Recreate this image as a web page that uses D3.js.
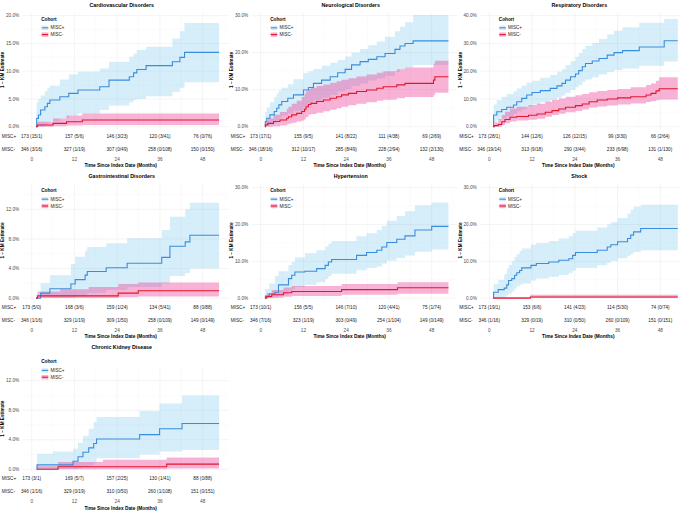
<!DOCTYPE html>
<html>
<head>
<meta charset="utf-8">
<script src="https://cdn.jsdelivr.net/npm/d3@7"></script>
<style>
body { margin: 0; background: #fff; }
svg { display: block; font-family: "Liberation Sans", Arial, sans-serif; }
</style>
</head>
<body>
<svg id="chart" width="680" height="513"></svg>
<script>
// rows are [month, estimate %, lower CI %, upper CI %]
const cvPlus = [
  [1.2,0,0,0],[1.4,1.5,0,4.4],[1.9,2.1,0,5.0],[2.5,3.0,0,5.6],[3.7,3.6,0.3,6.4],
  [4.4,4.2,0.6,7.0],[5.1,4.8,1.0,7.4],[7.9,5.4,1.5,8.5],[10.4,6.0,2.0,9.4],
  [13.0,6.6,2.4,9.9],[19.1,7.2,3.0,10.5],[21.7,8.4,3.8,11.7],[27.4,9.0,4.4,12.6],
  [28.6,9.7,4.8,13.2],[29.5,10.3,5.0,13.8],[32.1,11.0,5.5,14.4],[39.5,11.7,6.3,15.9],
  [41.6,12.5,7.0,17.2],[42.9,13.4,8.0,18.7],[52.6,13.4,8.0,18.7]
]
const cvMinus = [
  [1.2,0,0,0],[1.6,0.3,0,0.9],[6.0,0.6,0.1,1.5],[9.8,0.9,0.2,2.0],[14.2,1.2,0.3,2.4],
  [52.6,1.2,0.3,2.4]
]
const neuroPlus = [
  [1.2,0,0,0],[1.3,1.4,0,4.0],[1.7,2.3,0.2,5.2],[2.6,3.2,0.6,6.6],[3.8,4.1,1.1,8.0],
  [4.5,5.0,1.7,9.0],[5.1,5.9,2.3,9.8],[5.9,6.8,3.0,10.5],[7.6,7.7,3.6,11.5],
  [9.2,8.6,4.3,12.8],[12.0,9.9,5.6,14.5],[13.4,10.6,6.2,15.0],[14.8,11.7,7.0,15.6],
  [17.1,12.6,7.8,16.5],[19.5,13.5,8.6,17.3],[21.6,14.6,9.5,18.0],[23.7,15.5,10.2,19.0],
  [25.5,16.7,11.0,20.0],[27.9,17.6,11.7,21.0],[30.2,18.2,12.5,22.0],[32.6,18.9,13.0,23.0],
  [34.9,19.8,13.8,24.3],[37.7,20.9,14.8,25.8],[39.1,21.8,15.5,27.0],[40.5,22.5,16.0,28.2],
  [42.8,23.2,16.7,30.2],[52.7,23.2,16.7,30.2]
]
const neuroMinus = [
  [1.2,0,0,0],[1.3,0.5,0,1.5],[2.0,0.9,0,2.3],[3.6,1.4,0.1,3.2],[5.4,1.8,0.3,4.0],
  [7.3,2.3,0.6,4.8],[7.8,2.7,0.8,5.4],[8.7,3.2,1.1,6.2],[10.1,3.6,1.4,7.0],
  [11.5,4.1,1.7,8.0],[12.3,4.7,2.0,9.0],[12.7,5.4,2.6,9.6],[13.4,6.0,3.2,10.2],
  [14.1,6.3,3.4,10.5],[15.7,6.8,3.8,11.0],[17.6,7.2,4.2,11.4],[19.5,7.7,4.6,11.9],
  [21.3,8.1,5.0,12.3],[22.7,8.6,5.4,12.7],[24.6,9.0,5.8,13.1],[26.9,9.5,6.2,13.6],
  [29.7,9.9,6.6,14.1],[32.6,10.4,7.0,14.6],[34.4,10.8,7.3,15.0],[38.2,11.3,7.7,15.5],
  [40.5,11.7,8.0,16.0],[48.5,12.6,8.5,17.0],[48.9,13.5,9.2,17.8],[52.7,13.5,9.2,17.8]
]
const respPlus = [
  [1.1,0,0,0],[1.2,4.2,1.5,8.0],[2.1,5.4,2.5,9.6],[3.5,6.2,3.0,10.8],[4.9,7.0,3.8,11.8],
  [6.8,7.8,4.6,12.8],[7.7,9.0,5.5,13.8],[9.1,10.2,6.3,14.8],[10.5,11.4,7.3,15.8],
  [12.0,12.3,8.0,16.6],[14.3,13.0,8.8,17.6],[17.1,13.8,9.6,18.6],[19.0,14.7,10.4,19.8],
  [20.4,15.6,11.2,20.8],[21.4,16.8,12.2,22.2],[22.8,18.0,13.2,23.6],[24.2,19.0,14.2,25.2],
  [25.1,20.2,15.0,26.6],[26.1,21.6,16.2,28.0],[27.0,22.8,17.0,29.2],[28.9,23.7,17.8,30.2],
  [30.8,24.6,18.8,31.6],[33.1,25.8,19.8,33.2],[35.0,26.7,20.4,34.6],[37.4,27.4,21.0,35.8],
  [42.1,28.7,22.0,37.5],[49.1,31.0,23.5,38.8],[52.9,31.0,23.5,38.8]
]
const respMinus = [
  [1.1,0,0,0],[1.4,0.4,0,1.5],[2.5,0.8,0,2.8],[3.5,1.8,0.6,4.2],[4.4,2.6,1.2,5.4],
  [5.8,3.4,1.9,6.6],[7.7,3.7,2.2,7.2],[11.0,4.1,2.5,7.8],[13.4,4.6,2.9,8.3],
  [15.7,5.2,3.6,9.0],[17.6,5.8,4.2,9.6],[19.5,6.4,4.7,10.2],[21.4,7.0,5.2,10.8],
  [24.2,7.6,5.7,11.3],[26.1,8.2,6.2,11.8],[28.0,9.0,6.9,12.4],[30.3,9.6,7.3,12.9],
  [33.1,10.0,7.6,13.2],[36.0,10.4,8.0,13.6],[39.7,10.8,8.4,14.2],[44.0,11.4,8.9,15.0],
  [45.4,12.0,9.2,15.6],[46.8,12.9,9.5,16.6],[47.7,13.7,9.8,17.8],[52.9,13.7,9.8,17.8]
]
const giPlus = [
  [1.2,0,0,0],[2.5,0.67,0,2.0],[5.1,1.26,0,3.1],[11.0,1.9,0,4.6],[12.2,2.5,0.2,5.6],
  [15.0,3.1,0.5,6.4],[15.6,3.6,0.7,6.9],[20.9,4.1,1.1,7.4],[26.8,4.7,1.5,8.1],
  [36.5,5.5,2.0,9.2],[38.8,7.0,3.0,11.0],[43.1,7.6,3.4,12.0],[44.4,8.5,4.0,12.9],
  [52.6,8.5,4.0,12.9]
]
const giMinus = [
  [1.2,0,0,0],[1.6,0.3,0,0.9],[8.0,0.3,0,1.2],[16.0,0.3,0,1.5],[24.3,0.67,0.1,1.9],
  [29.9,1.0,0.2,2.1],[52.6,1.0,0.2,2.1]
]
const htnPlus = [
  [1.2,0,0,0],[1.3,0.55,0,2.5],[2.4,1.2,0,4.0],[4.0,1.6,0,6.0],[5.0,3.6,0.8,7.3],
  [7.8,5.3,1.8,9.0],[8.7,6.2,2.4,9.8],[9.6,7.1,3.0,11.0],[12.4,7.3,3.6,12.2],
  [15.7,8.0,4.3,13.0],[18.1,8.9,5.2,14.0],[19.0,9.8,6.0,14.8],[19.9,10.5,6.6,15.5],
  [26.9,11.6,7.6,16.8],[29.7,12.4,8.2,17.6],[32.6,13.0,8.6,18.5],[34.0,13.9,9.4,19.6],
  [35.4,15.1,10.2,21.0],[38.2,16.0,10.9,22.3],[40.5,16.9,11.6,23.6],[43.3,18.5,12.6,25.2],
  [48.0,19.5,13.2,26.0],[52.7,19.5,13.2,26.0]
]
const htnMinus = [
  [1.2,0,0,0],[1.7,0.45,0,1.3],[3.1,0.9,0.1,2.2],[6.4,1.45,0.4,2.9],[8.7,1.8,0.6,3.3],
  [22.7,2.3,0.9,3.8],[38.4,2.8,1.2,4.3],[52.7,2.8,1.2,4.3]
]
const shockPlus = [
  [1.1,0,0,0],[1.2,1.6,0,3.8],[2.5,2.3,0,5.0],[4.2,2.7,0.4,6.5],[4.9,3.6,0.8,8.0],
  [5.4,4.8,1.2,9.0],[6.3,5.3,1.8,10.0],[7.1,6.2,2.6,11.2],[7.7,6.9,3.2,12.0],
  [8.5,7.5,3.6,12.8],[9.1,8.2,4.0,13.5],[11.7,8.9,4.8,14.5],[13.2,9.4,5.3,15.0],
  [16.7,9.8,5.8,15.5],[19.5,10.3,6.3,16.2],[22.3,10.7,6.8,16.8],[23.4,11.6,7.4,17.6],
  [24.2,12.4,8.2,18.3],[30.3,13.0,8.9,19.2],[33.1,13.9,9.6,20.0],[34.1,14.5,10.1,20.6],
  [36.0,15.3,10.8,21.8],[38.8,16.2,11.5,23.0],[39.7,17.1,12.0,24.0],[40.5,18.0,12.5,24.8],
  [42.5,18.9,13.0,25.4],[52.9,18.9,13.0,25.4]
]
const shockMinus = [
  [1.1,0,0,0.3],[11.5,0.3,0,0.9],[52.9,0.3,0,0.9]
]
const ckdPlus = [
  [1.4,0,0,0],[1.5,0.6,0,2.1],[6.0,0.6,0,2.4],[11.6,1.1,0,2.8],[13.0,1.7,0.1,3.6],
  [14.4,2.3,0.3,4.5],[16.0,2.9,0.5,5.5],[17.4,3.5,0.9,6.4],[18.2,4.1,1.5,7.1],
  [30.3,4.7,2.0,7.9],[35.9,5.5,2.4,8.9],[42.2,6.2,2.6,10.0],[52.6,6.2,2.6,10.0]
]
const ckdMinus = [
  [1.4,0,0,0.4],[7.4,0.35,0,1.0],[20.0,0.35,0,1.3],[37.9,0.7,0.1,1.6],[52.6,0.7,0.1,1.6]
]

const panelTitles = ["Cardiovascular Disorders", "Neurological Disorders", "Respiratory Disorders",
  "Gastrointestinal Disorders", "Hypertension", "Shock", "Chronic Kidney Disease"]
const plusCurves = [cvPlus, neuroPlus, respPlus, giPlus, htnPlus, shockPlus, ckdPlus]
const minusCurves = [cvMinus, neuroMinus, respMinus, giMinus, htnMinus, shockMinus, ckdMinus]
const yTopTicks = [20, 30, 40, 12, 30, 30, 12]
const yTickSteps = [5, 10, 10, 4, 10, 10, 4]
const cohorts = ["MISC+", "MISC-"]
const riskMonths = [0, 12, 24, 36, 48]
// number at risk (events/censored) per panel
const riskPlus = [
  ["173 (15/1)", "157 (5/6)", "146 (3/23)", "120 (3/41)", "76 (0/76)"],
  ["173 (17/1)", "155 (9/5)", "141 (8/22)", "111 (4/38)", "69 (2/69)"],
  ["173 (28/1)", "144 (12/6)", "126 (12/15)", "99 (3/30)", "66 (2/64)"],
  ["173 (5/0)", "168 (3/6)", "159 (1/24)", "134 (5/41)", "88 (0/88)"],
  ["173 (10/1)", "156 (5/5)", "146 (7/10)", "120 (4/41)", "75 (1/74)"],
  ["173 (19/1)", "153 (6/6)", "141 (4/23)", "114 (5/30)", "74 (0/74)"],
  ["173 (3/1)", "169 (5/7)", "157 (2/25)", "130 (1/41)", "88 (0/88)"]
]
const riskMinus = [
  ["346 (3/16)", "327 (1/19)", "307 (0/49)", "258 (0/108)", "150 (0/150)"],
  ["346 (18/16)", "312 (10/17)", "285 (8/49)", "228 (2/94)", "132 (2/130)"],
  ["346 (19/14)", "313 (9/18)", "290 (3/44)", "233 (6/98)", "131 (1/130)"],
  ["346 (1/16)", "329 (1/19)", "309 (1/50)", "258 (0/109)", "149 (0/149)"],
  ["346 (7/16)", "323 (1/19)", "303 (0/49)", "254 (1/104)", "149 (0/149)"],
  ["346 (1/16)", "329 (0/19)", "310 (0/50)", "260 (0/109)", "151 (0/151)"],
  ["346 (1/16)", "329 (0/19)", "310 (0/50)", "260 (1/108)", "151 (0/151)"]
]

// layout
const colX0 = [31.7, 260.7, 489.3]
const rowY0 = [126.7, 298.1, 469.3]
const rowPlotTop = [13, 183, 368]
const yTopPx = [15.7, 15.7, 15.7, 209.3, 187.7, 187.7, 380.7]
const lineCol = ["#3a8ddd", "#e2172c"]
const bandCol = ["#5bb8ea", "#eb3e96"]
const bandOp = [0.25, 0.4]

const svg = d3.select("#chart")
const fmt = d => d3.format(".1f")(d) + "%"

function drawPanel(i) {
  const col = i % 3, row = Math.floor(i / 3)
  const x0 = colX0[col], y0 = rowY0[row]
  const x = d3.scaleLinear().domain([0, 48]).range([x0, x0 + 171])
  const y = d3.scaleLinear().domain([0, yTopTicks[i]]).range([y0, yTopPx[i]])
  const left = x(-2.6), right = x(55.3), top = rowPlotTop[row], bottom = y0 + 3
  const g = svg.append("g")

  const clipId = "clip" + i
  g.append("clipPath").attr("id", clipId).append("rect")
    .attr("x", left).attr("y", top).attr("width", right - left).attr("height", bottom - top)

  // grid
  const step = yTickSteps[i]
  const yMajor = d3.range(0, yTopTicks[i] + 0.001, step)
  const yMinor = d3.range(step / 2, yTopTicks[i] + step, step).filter(v => y(v) >= top)
  const grid = g.append("g")
  grid.selectAll(".hmin").data(yMinor).join("line")
    .attr("x1", left).attr("x2", right).attr("y1", d => y(d)).attr("y2", d => y(d))
    .attr("stroke", "#f0f0f0").attr("stroke-width", 0.3)
  grid.selectAll(".vmin").data([6, 18, 30, 42, 54]).join("line")
    .attr("y1", top).attr("y2", bottom).attr("x1", d => x(d)).attr("x2", d => x(d))
    .attr("stroke", "#f0f0f0").attr("stroke-width", 0.3)
  grid.selectAll(".hmaj").data(yMajor).join("line")
    .attr("x1", left).attr("x2", right).attr("y1", d => y(d)).attr("y2", d => y(d))
    .attr("stroke", "#e8e8e8").attr("stroke-width", 0.5)
  grid.selectAll(".vmaj").data(riskMonths).join("line")
    .attr("y1", top).attr("y2", bottom).attr("x1", d => x(d)).attr("x2", d => x(d))
    .attr("stroke", "#e8e8e8").attr("stroke-width", 0.5)

  // y tick labels
  g.selectAll(".ytick").data(yMajor).join("text")
    .attr("x", x0 - 12.5).attr("y", d => y(d)).attr("dy", "0.35em")
    .attr("text-anchor", "end").attr("font-size", 4.7).attr("fill", "#4d4d4d")
    .text(fmt)

  // ribbons and curves
  const curves = [plusCurves[i], minusCurves[i]]
  const area = d3.area().curve(d3.curveStepAfter)
    .x(d => x(d[0])).y0(d => y(d[2])).y1(d => y(d[3]))
  const line = d3.line().curve(d3.curveStepAfter)
    .x(d => x(d[0])).y(d => y(d[1]))
  const plot = g.append("g").attr("clip-path", `url(#${clipId})`)
  curves.forEach((c, k) => {
    plot.append("path").attr("d", area(c))
      .attr("fill", bandCol[k]).attr("fill-opacity", bandOp[k])
  })
  curves.forEach((c, k) => {
    plot.append("path").attr("d", line(c))
      .attr("fill", "none").attr("stroke", lineCol[k]).attr("stroke-width", 1.1)
  })

  // title
  g.append("text").attr("x", x0 + 90).attr("y", y0 - 121.7).attr("dy", "0.35em")
    .attr("text-anchor", "middle").attr("font-size", 5.3).attr("font-weight", "bold")
    .text(panelTitles[i])

  // y axis title
  const ymid = (top + y0) / 2
  g.append("text").attr("transform", `translate(${x0 - 29},${ymid}) rotate(-90)`)
    .attr("dy", "0.35em").attr("text-anchor", "middle")
    .attr("font-size", 4.7).attr("font-weight", "bold")
    .text("1 \u2212 KM Estimate")

  // legend
  const lg = g.append("g")
  lg.append("text").attr("x", x0 + 9.5).attr("y", y0 - 107.7).attr("dy", "0.35em")
    .attr("font-size", 4.7).attr("font-weight", "bold").text("Cohort")
  cohorts.forEach((name, k) => {
    const ly = y0 - 98.9 + k * 6.8
    lg.append("rect").attr("x", x0 + 10).attr("y", ly - 2.2).attr("width", 6.6).attr("height", 4.4)
      .attr("fill", bandCol[k]).attr("fill-opacity", bandOp[k])
    lg.append("line").attr("x1", x0 + 10).attr("x2", x0 + 16.6).attr("y1", ly).attr("y2", ly)
      .attr("stroke", lineCol[k]).attr("stroke-width", 1.1)
    lg.append("text").attr("x", x0 + 18.8).attr("y", ly).attr("dy", "0.35em")
      .attr("font-size", 4.5).attr("fill", "#222").text(name)
  })

  // risk table
  const tables = [riskPlus[i], riskMinus[i]]
  tables.forEach((rowVals, k) => {
    const ty = y0 + 9.5 + k * 13
    g.append("text").attr("x", x0 - 30).attr("y", ty).attr("dy", "0.35em")
      .attr("font-size", 4.7).attr("fill", "#222").text(cohorts[k])
    g.selectAll(null).data(rowVals).join("text")
      .attr("x", (d, j) => x(riskMonths[j])).attr("y", ty).attr("dy", "0.35em")
      .attr("text-anchor", "middle").attr("font-size", 4.7).attr("fill", "#222")
      .text(d => d)
  })
  g.selectAll(null).data(riskMonths).join("text")
    .attr("x", d => x(d)).attr("y", y0 + 32.5).attr("dy", "0.35em")
    .attr("text-anchor", "middle").attr("font-size", 4.7).attr("fill", "#4d4d4d")
    .text(d => d)
  g.append("text").attr("x", x0 + 89).attr("y", y0 + 38.6).attr("dy", "0.35em")
    .attr("text-anchor", "middle").attr("font-size", 4.8).attr("font-weight", "bold")
    .text("Time Since Index Date (Months)")
}

for (let i = 0; i < panelTitles.length; i++) drawPanel(i)
</script>
</body>
</html>
